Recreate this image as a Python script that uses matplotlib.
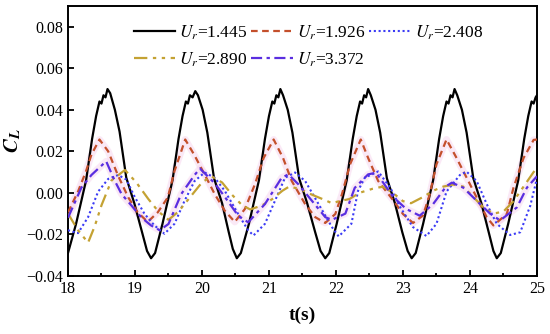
import matplotlib
matplotlib.use("Agg")
import matplotlib.pyplot as plt
from matplotlib.ticker import MultipleLocator

plt.rcParams['font.family'] = ['Liberation Serif', 'DejaVu Serif']
plt.rcParams['mathtext.fontset'] = 'stix'

labels = ['$U_r$=1.445', '$U_r$=1.926', '$U_r$=2.408', '$U_r$=2.890', '$U_r$=3.372']

t_black = [18.00, 18.12, 18.27, 18.36, 18.42, 18.47, 18.50, 18.53, 18.56, 18.59, 18.63, 18.70, 18.77, 18.87, 18.99, 19.11, 19.18, 19.24,
           19.30, 19.41, 19.56, 19.65, 19.71, 19.76, 19.79, 19.82, 19.86, 19.90, 19.94, 20.01, 20.08, 20.18, 20.30, 20.40, 20.46, 20.52,
           20.58, 20.70, 20.85, 20.94, 21.00, 21.05, 21.08, 21.11, 21.14, 21.17, 21.21, 21.28, 21.35, 21.45, 21.57, 21.69, 21.77, 21.84,
           21.90, 22.01, 22.16, 22.25, 22.31, 22.36, 22.39, 22.42, 22.45, 22.48, 22.52, 22.59, 22.66, 22.76, 22.88, 22.99, 23.07, 23.13,
           23.19, 23.30, 23.45, 23.54, 23.60, 23.65, 23.68, 23.71, 23.74, 23.77, 23.81, 23.88, 23.95, 24.05, 24.17, 24.28, 24.35, 24.40,
           24.46, 24.57, 24.72, 24.81, 24.87, 24.92, 24.95, 24.98, 25.00]
c_black = [-0.029, -0.015, 0.006, 0.026, 0.037, 0.044, 0.043, 0.047, 0.046, 0.050, 0.048, 0.040, 0.0295, 0.0073, -0.005, -0.0195, -0.028, -0.0315,
           -0.029, -0.015, 0.006, 0.026, 0.037, 0.044, 0.043, 0.047, 0.046, 0.049, 0.047, 0.040, 0.029, 0.007, -0.005, -0.019, -0.027, -0.0315,
           -0.029, -0.015, 0.006, 0.026, 0.037, 0.044, 0.043, 0.047, 0.046, 0.050, 0.047, 0.040, 0.029, 0.007, -0.005, -0.019, -0.028, -0.0315,
           -0.029, -0.015, 0.006, 0.026, 0.037, 0.044, 0.043, 0.047, 0.046, 0.050, 0.047, 0.040, 0.029, 0.007, -0.005, -0.019, -0.028, -0.0315,
           -0.029, -0.015, 0.006, 0.026, 0.037, 0.044, 0.043, 0.047, 0.046, 0.050, 0.047, 0.040, 0.029, 0.007, -0.005, -0.019, -0.028, -0.0315,
           -0.029, -0.015, 0.006, 0.026, 0.037, 0.044, 0.043, 0.046, 0.047]

t_red = [18.00, 18.15, 18.27, 18.35, 18.47, 18.60, 18.75, 18.90, 19.04, 19.19, 19.34, 19.49, 19.59, 19.75, 19.89, 20.09, 20.19, 20.34,
         20.49, 20.64, 20.79, 20.92, 21.07, 21.21, 21.34, 21.54, 21.69, 21.84, 21.99, 22.09, 22.21, 22.37, 22.48, 22.63, 22.86, 23.00,
         23.15, 23.30, 23.40, 23.50, 23.65, 23.80, 23.95, 24.10, 24.25, 24.35, 24.55, 24.65, 24.80, 24.95, 25.00]
c_red = [-0.0094, 0.0006, 0.0105, 0.0184, 0.0257, 0.020, 0.0081, -0.0022, -0.0094, -0.0140, -0.0094, -0.0022, 0.0105, 0.0257, 0.018, 0.0057, -0.0006, -0.0086,
         -0.0140, -0.0078, 0.0041, 0.0168, 0.0257, 0.0168, 0.0057, -0.0054, -0.0117, -0.0145, -0.0102, -0.0006, 0.0137, 0.0257, 0.0168, 0.0057, -0.0038, -0.0102,
         -0.0145, -0.0109, -0.0006, 0.0137, 0.0257, 0.0168, 0.0073, -0.0022, -0.0117, -0.0157, -0.0102, 0.0025, 0.0168, 0.0255, 0.0257]

t_blue = [18.00, 18.15, 18.30, 18.45, 18.60, 18.75, 18.87, 19.00, 19.14, 19.29, 19.44, 19.59, 19.74, 19.89, 20.04, 20.19, 20.34,
          20.54, 20.69, 20.77, 20.94, 21.09, 21.24, 21.39, 21.54, 21.74, 21.94, 22.04, 22.23, 22.33, 22.43, 22.63,
          22.81, 22.96, 23.15, 23.35, 23.50, 23.65, 23.85, 23.95, 24.10, 24.25, 24.40, 24.60, 24.75, 24.90, 25.00]
c_blue = [-0.018, -0.0194, -0.0117, 0.0006, 0.0067, 0.0086, 0.0064, -0.0022, -0.0100, -0.0157, -0.0197, -0.0149, -0.0038, 0.0057, 0.0098, 0.0073, 0.0010,
          -0.0102, -0.0181, -0.0205, -0.0149, -0.0038, 0.0073, 0.0098, 0.0057, -0.0054, -0.0165, -0.0210, -0.0149, 0.0010, 0.0073, 0.0103,
          0.0025, -0.0070, -0.0165, -0.0208, -0.0149, 0.0006, 0.0086, 0.0102, 0.0057, -0.0054, -0.0149, -0.0203, -0.0190, -0.0062, 0.0070]

t_gold = [18.00, 18.15, 18.30, 18.40, 18.50, 18.65, 18.85, 19.02, 19.20, 19.35, 19.50, 19.65, 19.80, 20.00, 20.14, 20.30, 20.45,
          20.60, 20.72, 20.90, 21.05, 21.20, 21.30, 21.45, 21.65, 21.80, 21.94, 22.05, 22.20, 22.35, 22.55, 22.70, 22.85,
          23.00, 23.12, 23.30, 23.45, 23.60, 23.75, 23.90, 24.05, 24.20, 24.35, 24.50, 24.65, 24.80, 24.95, 25.00]
c_gold = [-0.010, -0.018, -0.024, -0.016, -0.006, 0.006, 0.011, 0.005, -0.003, -0.009, -0.013, -0.009, -0.003, 0.005, 0.008, 0.005, -0.001,
          -0.006, -0.008, -0.006, -0.003, 0.001, 0.003, 0.002, -0.001, -0.003, -0.005, -0.004, -0.003, 0.000, 0.002, 0.003, 0.000,
          -0.004, -0.005, -0.002, 0.001, 0.003, 0.004, 0.003, -0.002, -0.007, -0.010, -0.009, -0.004, 0.003, 0.010, 0.012]

t_purple = [18.00, 18.20, 18.35, 18.57, 18.70, 18.80, 18.95, 19.09, 19.24, 19.37, 19.50, 19.69, 19.89, 19.97, 20.19, 20.34,
            20.54, 20.69, 20.94, 21.19, 21.29, 21.44, 21.64, 21.84, 21.94, 22.14, 22.28, 22.48, 22.60,
            22.86, 23.05, 23.25, 23.45, 23.65, 23.73, 23.90, 24.10, 24.30, 24.45, 24.70, 24.85, 25.00]
c_purple = [-0.012, 0.0025, 0.0086, 0.0152, 0.0057, -0.0006, -0.0062, -0.0117, -0.0157, -0.0180, -0.0150, -0.0006, 0.0086, 0.0117, 0.0046, -0.0019,
            -0.0110, -0.0142, -0.0054, 0.0073, 0.0089, 0.0041, -0.0038, -0.0117, -0.0130, -0.0100, 0.0024, 0.0089, 0.0097,
            -0.0022, -0.0078, -0.0110, -0.0054, 0.0033, 0.0049, 0.0025, -0.0038, -0.0100, -0.0133, -0.0070, 0.0025, 0.0080]

fig = plt.figure(figsize=(5.5, 3.34), dpi=100)
ax = fig.add_axes([0.1236, 0.174, 0.8527, 0.808])

halo = '#f7d4ee'
ax.plot(t_red, c_red, color=halo, lw=5, alpha=0.5, solid_capstyle='butt', zorder=1)
ax.plot(t_purple, c_purple, color=halo, lw=5, alpha=0.5, solid_capstyle='butt', zorder=1)

h0, = ax.plot(t_black, c_black, color='black', lw=1.6, ls='-', label=labels[0], zorder=3)
h1, = ax.plot(t_red, c_red, color='#c4502c', lw=1.6, ls=(0, (3, 2)), label=labels[1], zorder=3)
h2, = ax.plot(t_blue, c_blue, color='#3b3bf5', lw=1.5, ls=(0, (1, 1.3)), label=labels[2], zorder=3)
h3, = ax.plot(t_gold, c_gold, color='#c4a233', lw=1.6, ls=(0, (6, 2.5, 1.5, 2.5, 1.5, 2.5)), label=labels[3], zorder=3)
h4, = ax.plot(t_purple, c_purple, color='#5a2ee0', lw=1.6, ls=(0, (5, 2, 1.5, 2)), label=labels[4], zorder=3)

ax.set_xlim(18, 25)
ax.set_ylim(-0.04, 0.09)
ax.xaxis.set_major_locator(MultipleLocator(1))
ax.xaxis.set_minor_locator(MultipleLocator(0.5))
ax.yaxis.set_major_locator(MultipleLocator(0.02))
ax.tick_params(axis='both', which='both', direction='in', top=False, right=False, labelsize=11.5, width=1.3)
ax.tick_params(axis='both', which='major', length=4)
ax.tick_params(axis='x', which='minor', length=2.5)
ax.set_yticks([-0.04, -0.02, 0.00, 0.02, 0.04, 0.06, 0.08])
ax.set_yticklabels(['\u22120.04', '\u22120.02', '0.00', '0.02', '0.04', '0.06', '0.08'])
ax.set_xticks([18, 19, 20, 21, 22, 23, 24, 25])
ax.set_xticklabels(['18', '19', '20', '21', '22', '23', '24', '25'])
for s in ax.spines.values():
    s.set_linewidth(1.4)

ax.set_xlabel('t(s)', fontsize=14, fontweight='bold', labelpad=7)
ax.set_ylabel(r'$\mathbfit{C}_{\mathbfit{L}}$', fontsize=15, labelpad=2)

handles = [h0, h3, h1, h4, h2]
leg = ax.legend(handles, [h.get_label() for h in handles], ncol=3, loc='upper left',
                bbox_to_anchor=(0.118, 0.975), frameon=False,
                fontsize=12.5, handlelength=2.4, handletextpad=0.2, columnspacing=0.25,
                labelspacing=0.5, borderaxespad=0.2)

fig.savefig('out.png', dpi=100)
